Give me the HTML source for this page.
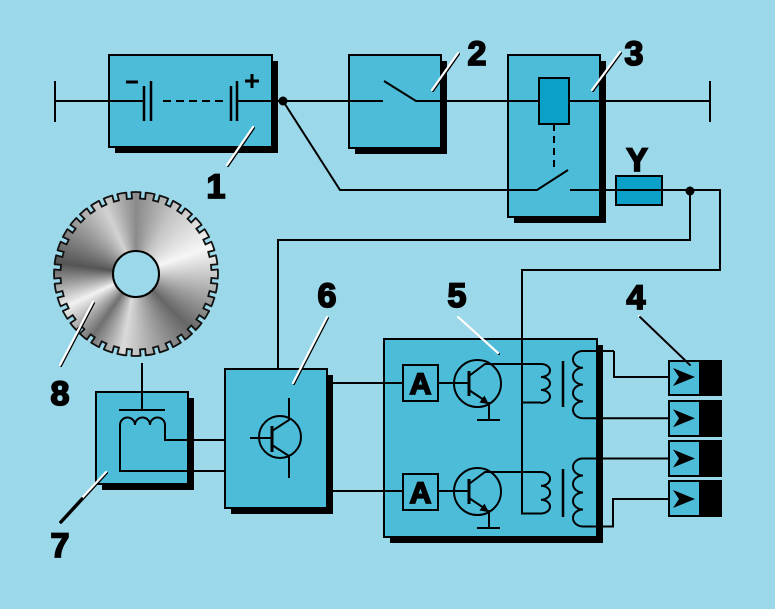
<!DOCTYPE html>
<html><head><meta charset="utf-8"><style>
html,body{margin:0;padding:0;}
body{width:775px;height:609px;background:#9bd8e9;position:relative;overflow:hidden;}
#gear{position:absolute;left:54px;top:192px;width:164px;height:164px;border-radius:50%;
background:conic-gradient(from 0deg,#8a8a8a 0deg,#c4c4c4 30deg,#f6f6f6 70deg,#b4b4b4 100deg,#666 135deg,#a4a4a4 165deg,#dadada 190deg,#707070 215deg,#f2f2f2 245deg,#555 278deg,#9a9a9a 310deg,#d2d2d2 335deg,#8a8a8a 360deg);}
svg{position:absolute;left:0;top:0;}
text{font-family:"Liberation Sans",Arial,sans-serif;font-weight:bold;fill:#000;stroke:#000;stroke-width:1.8;}
</style></head><body>
<div id="gear"></div>
<svg width="775" height="609" viewBox="0 0 775 609" xmlns="http://www.w3.org/2000/svg">
<defs>
<g id="gap"><rect x="-2.6" y="-85" width="5.2" height="9.5" fill="#9bd8e9"/><path d="M-2.6,-82.6 V-75.5 H2.6 V-82.6" fill="none" stroke="#111" stroke-width="1.8"/></g>
</defs>

<!-- gear -->
<g transform="translate(136,274)">
<circle r="82" fill="none" stroke="#111" stroke-width="1.8"/>
<use href="#gap" transform="rotate(5)"/><use href="#gap" transform="rotate(15)"/><use href="#gap" transform="rotate(25)"/><use href="#gap" transform="rotate(35)"/><use href="#gap" transform="rotate(45)"/><use href="#gap" transform="rotate(55)"/><use href="#gap" transform="rotate(65)"/><use href="#gap" transform="rotate(75)"/><use href="#gap" transform="rotate(85)"/>
<use href="#gap" transform="rotate(95)"/><use href="#gap" transform="rotate(105)"/><use href="#gap" transform="rotate(115)"/><use href="#gap" transform="rotate(125)"/><use href="#gap" transform="rotate(135)"/><use href="#gap" transform="rotate(145)"/><use href="#gap" transform="rotate(155)"/><use href="#gap" transform="rotate(165)"/><use href="#gap" transform="rotate(175)"/>
<use href="#gap" transform="rotate(185)"/><use href="#gap" transform="rotate(195)"/><use href="#gap" transform="rotate(205)"/><use href="#gap" transform="rotate(215)"/><use href="#gap" transform="rotate(225)"/><use href="#gap" transform="rotate(235)"/><use href="#gap" transform="rotate(245)"/><use href="#gap" transform="rotate(255)"/><use href="#gap" transform="rotate(265)"/>
<use href="#gap" transform="rotate(275)"/><use href="#gap" transform="rotate(285)"/><use href="#gap" transform="rotate(295)"/><use href="#gap" transform="rotate(305)"/><use href="#gap" transform="rotate(315)"/><use href="#gap" transform="rotate(325)"/><use href="#gap" transform="rotate(335)"/><use href="#gap" transform="rotate(345)"/><use href="#gap" transform="rotate(355)"/>
<circle r="23" fill="#9bd8e9" stroke="#000" stroke-width="2"/>
</g>

<!-- shadows -->
<g fill="#000">
<rect x="115" y="61" width="163" height="92"/>
<rect x="355" y="61" width="92" height="93"/>
<rect x="514" y="61" width="92" height="162"/>
<rect x="102" y="398" width="92" height="92"/>
<rect x="231" y="375" width="102" height="139"/>
<rect x="390" y="345" width="213" height="198"/>
</g>
<!-- boxes -->
<g fill="#4cbcd9" stroke="#000" stroke-width="2">
<rect x="109" y="55" width="163" height="92"/>
<rect x="349" y="55" width="92" height="93"/>
<rect x="508" y="55" width="92" height="162"/>
<rect x="96" y="392" width="92" height="92"/>
<rect x="225" y="369" width="102" height="139"/>
<rect x="384" y="339" width="213" height="198"/>
</g>

<g fill="none" stroke="#000" stroke-width="2">
<!-- main line -->
<path d="M55,81 V122"/>
<path d="M55,101 H144"/>
<path d="M144,86 V121" stroke-width="2.5"/>
<path d="M151,81 V121" stroke-width="2.5"/>
<path d="M163,101 H228" stroke-dasharray="8 5"/>
<path d="M231,86 V121" stroke-width="2.5"/>
<path d="M237,81 V121" stroke-width="2.5"/>
<path d="M237,101 H383"/>
<path d="M384,81 L416,101 H539"/>
<path d="M569,101 H710"/>
<path d="M710,81 V122"/>
<!-- relay -->
<rect x="539" y="78" width="30" height="46" fill="#0aa0c8"/>
<path d="M554,124 V172" stroke-dasharray="7 5"/>
<path d="M283,101 L340,190 H537 L568,170"/>
<rect x="616" y="176" width="46" height="29" fill="#0aa0c8"/>
<path d="M570,190 H720 V270 H522 V513.5 H541"/>
<path d="M522,402.5 H541"/>
<path d="M690,190 V240 H278 V369"/>
<!-- sensor 7 -->
<path d="M142,363 V410"/>
<path d="M119,410 H165"/>
<path d="M225,471 H120 V425 A7.5 7.5 0 0 1 135,425 A7.5 7.5 0 0 1 150,425 A7.5 7.5 0 0 1 165,425 V440 H225"/>
<!-- transistor 6 -->
<circle cx="280" cy="437" r="21"/>
<path d="M250,438 H272"/>
<path d="M272,426 V452" stroke-width="3"/>
<path d="M272,431 L289,420 V398"/>
<path d="M272,445 L289,456 V478"/>
<!-- 6 to 5 -->
<path d="M327,383 H403"/>
<path d="M327,491 H403"/>
<rect x="403" y="365" width="35" height="36"/>
<rect x="403" y="474" width="35" height="36"/>
<path d="M438,383 H469"/>
<path d="M438,491 H469"/>
<!-- transistor 5a -->
<circle cx="477.5" cy="383.5" r="23.5"/>
<path d="M469,371 V396" stroke-width="3"/>
<path d="M469,376 L485,364 H541"/>
<path d="M469,390 L484,400"/>
<path d="M489,402 V420 M477,420 H500"/>
<!-- transistor 5b -->
<circle cx="477.5" cy="491.5" r="23.5"/>
<path d="M469,479 V504" stroke-width="3"/>
<path d="M469,484 L485,472 H541"/>
<path d="M469,498 L484,508"/>
<path d="M489,510 V528 M477,528 H500"/>
<!-- coils -->
<path d="M541,364 A9 6.5 0 0 1 541,377 A9 6.5 0 0 1 541,390 A9 6.5 0 0 1 541,403"/>
<path d="M541,472 A9 6.9 0 0 1 541,485.8 A9 6.9 0 0 1 541,499.7 A9 6.9 0 0 1 541,513.5"/>
<path d="M563,361 V407" stroke-width="2.5"/>
<path d="M563,469 V517" stroke-width="2.5"/>
<path d="M614,351 H583 A10 8.4 0 0 0 583,367.8 A10 8.4 0 0 0 583,384.6 A10 8.4 0 0 0 583,401.4 A10 8.4 0 0 0 583,418.2 H680"/>
<path d="M614,351 V377 H680"/>
<path d="M680,458.5 H583 A10 8.5 0 0 0 583,475.5 A10 8.5 0 0 0 583,492.5 A10 8.5 0 0 0 583,509.5 A10 8.5 0 0 0 583,526.5 H613 V499 H680"/>
</g>
<!-- junction dots -->
<circle cx="283" cy="101" r="4.5" fill="#000"/>
<circle cx="690" cy="191" r="4.5" fill="#000"/>
<!-- emitter arrows -->
<polygon points="488,403.5 480.3,402.2 484.4,396.6" fill="#000" stroke="#000" stroke-width="1"/>
<polygon points="488,511.5 480.3,510.2 484.4,504.6" fill="#000" stroke="#000" stroke-width="1"/>

<!-- plugs -->
<g stroke="#000" stroke-width="2">
<rect x="669" y="361" width="31" height="34" fill="#4cbcd9"/><rect x="700" y="361" width="21" height="34" fill="#000"/>
<rect x="669" y="401" width="31" height="35" fill="#4cbcd9"/><rect x="700" y="401" width="21" height="35" fill="#000"/>
<rect x="669" y="441" width="31" height="35" fill="#4cbcd9"/><rect x="700" y="441" width="21" height="35" fill="#000"/>
<rect x="669" y="481" width="31" height="35" fill="#4cbcd9"/><rect x="700" y="481" width="21" height="35" fill="#000"/>
</g>
<g fill="#000">
<polygon points="695,377 673,368 679,377 673,386"/>
<polygon points="695,418.2 673,409.2 679,418.2 673,427.2"/>
<polygon points="695,458.5 673,449.5 679,458.5 673,467.5"/>
<polygon points="695,499 673,490 679,499 673,508"/>
</g>

<!-- leaders -->
<g stroke-linecap="round">
<g stroke="#000" stroke-width="2" transform="translate(1,1)">
<path d="M253,127 L227,165"/><path d="M432,90 L458,53"/><path d="M592,90 L620,52"/>
<path d="M458,317 L498,353"/><path d="M293,383 L327,317"/><path d="M106,472 L60,522"/><path d="M93,302 L60,365"/>
</g>
<g stroke="#fff" stroke-width="2.2">
<path d="M253,127 L227,165"/><path d="M432,90 L458,53"/><path d="M592,90 L620,52"/>
<path d="M458,317 L498,353"/><path d="M293,383 L327,317"/><path d="M106,472 L82,498"/><path d="M93,302 L60,365"/>
</g>
<path d="M82,498 L60,522" stroke="#000" stroke-width="2"/>
<path d="M640,317 L690,365" stroke="#fff" stroke-width="2" transform="translate(-1,-1)"/>
<path d="M640,317 L690,365" stroke="#000" stroke-width="2"/>
</g>

<!-- battery signs -->
<path d="M126,82 H138" stroke="#000" stroke-width="3"/>
<path d="M245,81 H259 M252,74 V88" stroke="#000" stroke-width="3"/>

<!-- labels -->
<g font-size="34" text-anchor="middle">
<text x="216" y="198">1</text>
<text x="477" y="65">2</text>
<text x="634" y="65">3</text>
<text x="636" y="309">4</text>
<text x="457" y="307">5</text>
<text x="327" y="307">6</text>
<text x="60" y="557">7</text>
<text x="60" y="405">8</text>
<text x="637" y="171" font-size="32">Y</text>
<text x="420.5" y="394" font-size="30">A</text>
<text x="420.5" y="503" font-size="30">A</text>
</g>
</svg>
</body></html>
